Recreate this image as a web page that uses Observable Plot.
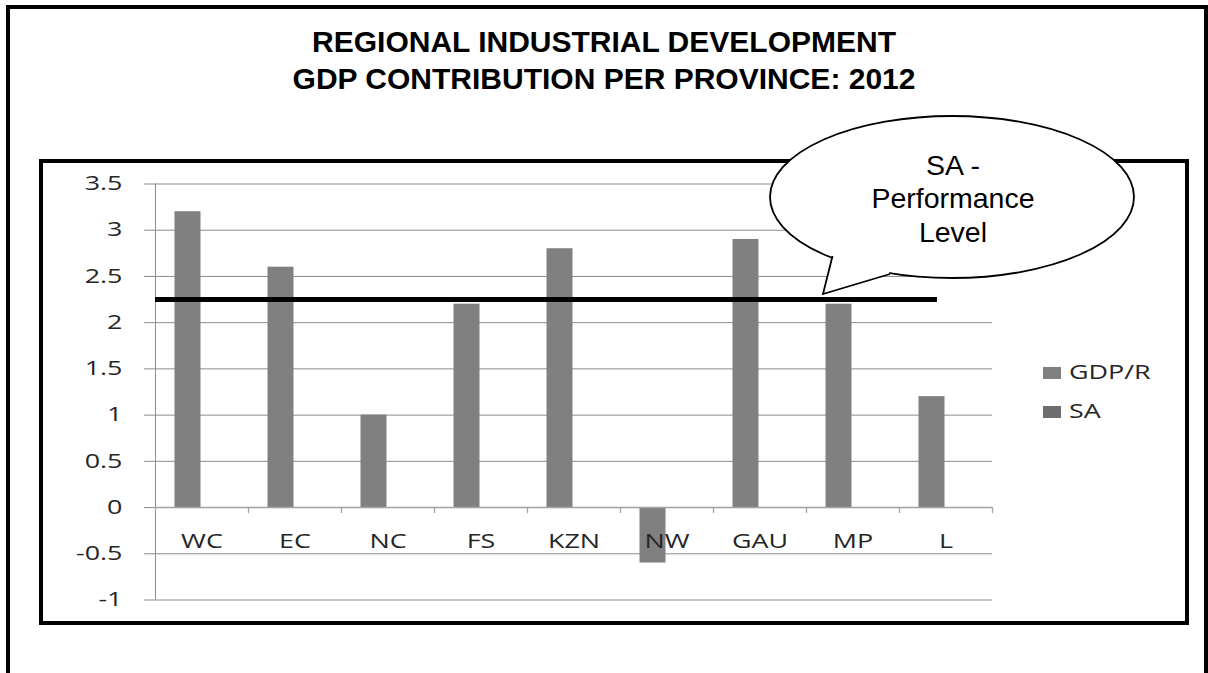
<!DOCTYPE html>
<html>
<head>
<meta charset="utf-8">
<script src="https://cdn.jsdelivr.net/npm/d3@7"></script>
<script src="https://cdn.jsdelivr.net/npm/@observablehq/plot@0.6"></script>
<style>
  html, body { margin: 0; padding: 0; background: #fff; width: 1208px; height: 673px; overflow: hidden; }
  body { position: relative; }
  #outer { position: absolute; left: 6px; top: 5px; width: 1194px; height: 720px; border: 4px solid #000; border-bottom: none; }
  #title { position: absolute; left: 0; top: 24px; width: 1208px; text-align: center;
           font-family: "Liberation Sans", Arial, sans-serif; font-weight: bold; font-size: 30px; line-height: 36.5px; color: #000; }
  #inner { position: absolute; left: 39px; top: 159px; width: 1142px; height: 458px; border: 4px solid #000; background: #fff; }
  #inner svg { display: block; }
  #overlay { position: absolute; left: 0; top: 0; pointer-events: none; }
</style>
</head>
<body>
<div id="outer"></div>
<div id="title"></div>
<div id="inner"></div>
<script>
// ---- data ----
const titleLines = ["REGIONAL INDUSTRIAL DEVELOPMENT", "GDP CONTRIBUTION PER PROVINCE: 2012"];
const provinces = ["WC", "EC", "NC", "FS", "KZN", "NW", "GAU", "MP", "L"];
const gdpR = [3.2, 2.6, 1.0, 2.2, 2.8, -0.6, 2.9, 2.2, 1.2];
const saLevel = 2.25;
const yTicks = [-1, -0.5, 0, 0.5, 1, 1.5, 2, 2.5, 3, 3.5];
const seriesNames = ["GDP/R", "SA"];
const seriesColors = ["#808080", "#6d6d6d"];
const calloutLines = ["SA -", "Performance", "Level"];

// ---- title ----
document.getElementById("title").innerHTML = titleLines.map(t => `<div>${t}</div>`).join("");

// ---- chart ----
const W = 1142, H = 458;
const mL = 112, mR = 193, mT = 20.5, mB = 21.5;
const bw = (W - mL - mR) / provinces.length;
const labelFont = "'Open Sans', 'DejaVu Sans', sans-serif";
const textColor = "#262626";
const gridColor = "#8c8c8c";
const stretch = 1.38;

const rows = provinces.map((p, i) => ({province: p, value: gdpR[i], series: seriesNames[0]}));

const chart = Plot.plot({
  width: W,
  height: H,
  marginLeft: mL,
  marginRight: mR,
  marginTop: mT,
  marginBottom: mB,
  style: {fontFamily: labelFont, fontSize: "19.5px", color: textColor, background: "transparent", overflow: "visible"},
  x: {type: "band", domain: provinces, padding: 0, axis: null},
  y: {domain: [-1, 3.5], axis: null},
  marks: [
    Plot.gridY(yTicks, {stroke: gridColor, strokeOpacity: 1}),
    Plot.axisY({ticks: yTicks, tickSize: 11, tickPadding: 22, tickFormat: d => String(d),
                stroke: gridColor, strokeOpacity: 1, fill: textColor, label: null}),
    Plot.ruleX(provinces.slice(0, 1), {x: d => d, y1: -1, y2: 3.5, dx: -bw / 2, stroke: gridColor}),
    Plot.barY(rows, {x: "province", y: "value", fill: seriesColors[0], insetLeft: 19.5, insetRight: 47.5}),
    Plot.ruleY([0], {stroke: "#a3a3a3", strokeWidth: 1.6}),
    Plot.ruleX(provinces, {x: d => d, y1: 0, y2: 0, dx: -bw / 2, insetBottom: -6, stroke: "#a3a3a3", strokeWidth: 1.3}),
    Plot.ruleX(provinces.slice(-1), {x: d => d, y1: 0, y2: 0, dx: bw / 2, insetBottom: -6, stroke: "#a3a3a3", strokeWidth: 1.3}),
    Plot.text(provinces, {x: d => d, y: 0, dy: 34, text: d => d, fill: textColor}),
    Plot.ruleY([saLevel], {stroke: "#000", strokeWidth: 5, insetRight: 55})
  ]
});

// widen the label glyphs (the source chart's text is horizontally stretched)
chart.querySelectorAll("text").forEach(t => {
  const tr = t.getAttribute("transform") || "";
  const x = t.getAttribute("x");
  let extra = "";
  if (x !== null && !isNaN(+x)) { extra = ` translate(${x},0)`; t.removeAttribute("x"); }
  t.setAttribute("transform", `${tr}${extra} scale(${stretch},1)`);
});
document.getElementById("inner").appendChild(chart);

// ---- overlay: legend + callout ----
const ov = d3.select("body").append("svg")
  .attr("id", "overlay").attr("width", 1208).attr("height", 673);

// legend
const lg = ov.append("g");
seriesNames.forEach((name, i) => {
  const y0 = 379.3 + i * 39;
  lg.append("rect").attr("x", 1043).attr("y", y0 - 12.3).attr("width", 18).attr("height", 12).attr("fill", seriesColors[i]);
  lg.append("text").attr("transform", `translate(1069,${y0}) scale(${stretch},1)`)
    .attr("font-family", labelFont).attr("font-size", 19.5).attr("fill", textColor).text(name);
});

// callout bubble
const cb = ov.append("g");
cb.append("ellipse").attr("cx", 952).attr("cy", 197).attr("rx", 182).attr("ry", 81)
  .attr("fill", "#fff").attr("stroke", "#000").attr("stroke-width", 1.8);
cb.append("path").attr("d", "M835,250 L833,257 L823,294 L890,274 L885,265 Z").attr("fill", "#fff");
cb.append("path").attr("d", "M832.5,256 L823,294 L890,274").attr("fill", "none")
  .attr("stroke", "#000").attr("stroke-width", 1.8).attr("stroke-linejoin", "miter");
calloutLines.forEach((s, i) => {
  cb.append("text").attr("x", 953).attr("y", 175 + i * 33.3).attr("text-anchor", "middle")
    .attr("font-family", "'Liberation Sans', Arial, sans-serif").attr("font-size", 28.5).attr("fill", "#000").text(s);
});
</script>
</body>
</html>
